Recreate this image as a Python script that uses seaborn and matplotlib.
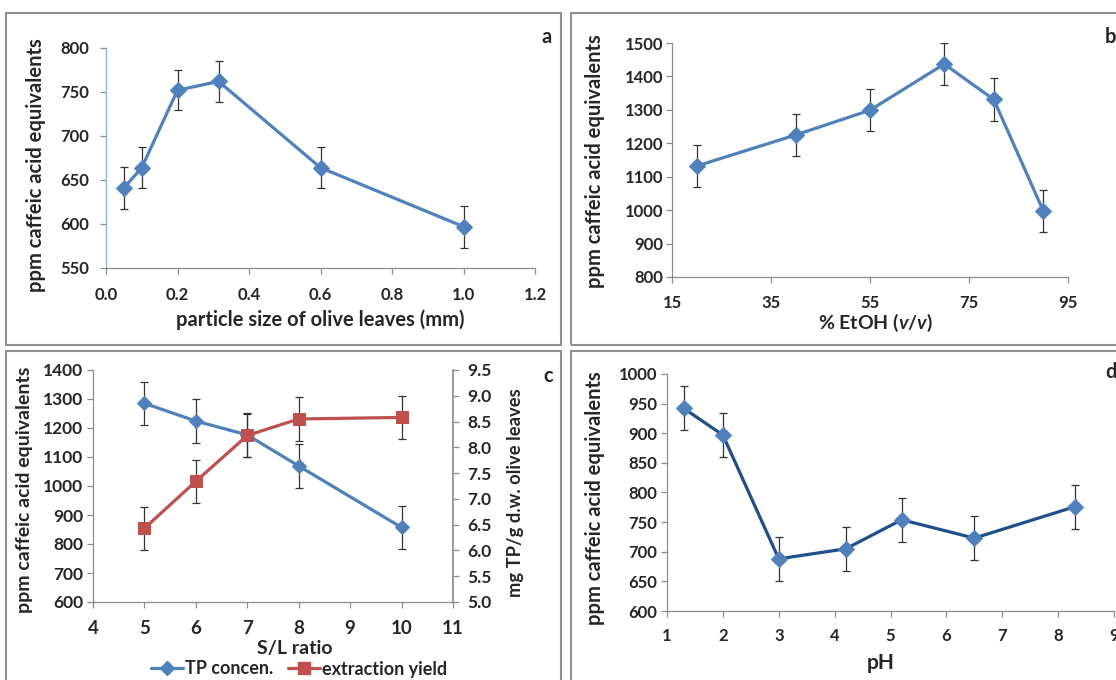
import matplotlib.pyplot as plt
import seaborn as sns
from matplotlib import font_manager
from matplotlib.patches import Rectangle
from matplotlib.ticker import MultipleLocator, FormatStrFormatter
from matplotlib.lines import Line2D

# a: particle size of olive leaves
size_mm = [0.05, 0.1, 0.2, 0.315, 0.6, 1.0]
tp_size = [641, 664, 752, 762, 664, 597]
err_size = [24, 23, 23, 23, 23, 24]

# b: ethanol content
etoh = [20, 40, 55, 70, 80, 90]
tp_etoh = [1132, 1225, 1299, 1437, 1331, 998]
err_etoh = [63, 63, 63, 63, 63, 63]

# c: solid / liquid ratio
sl_ratio = [5, 6, 7, 8, 10]
tp_sl = [1285, 1224, 1176, 1069, 857]
err_tp_sl = [75, 75, 75, 75, 75]
yield_sl = [6.43, 7.34, 8.23, 8.55, 8.58]
err_yield_sl = [0.42, 0.42, 0.42, 0.42, 0.42]

# d: pH
ph = [1.3, 2, 3, 4.2, 5.2, 6.5, 8.3]
tp_ph = [942, 897, 688, 705, 754, 723, 776]
err_ph = [37, 37, 37, 37, 37, 37, 37]

sns.set_theme(style="white")

# pick a family that really has a bold face installed
bold_families = {f.name for f in font_manager.fontManager.ttflist
                 if isinstance(f.weight, int) and f.weight >= 600 or f.weight == "bold"}
FONT = next((f for f in ["Lato", "Open Sans", "Noto Sans", "Roboto", "Liberation Sans"]
             if f in bold_families), "DejaVu Sans")
plt.rcParams['font.family'] = [FONT, 'DejaVu Sans']
plt.rcParams['font.weight'] = 'bold'
plt.rcParams['mathtext.fontset'] = 'custom'
plt.rcParams['mathtext.it'] = FONT + ':italic:bold'
plt.rcParams['mathtext.rm'] = FONT + ':bold'

BLUE = "#4F81BD"
DARK = "#1F4E8C"
RED = "#C0504D"
GRAY = "#8C8C8C"
W, H = 1116, 680
fig = plt.figure(figsize=(W / 100, H / 100), dpi=100)


def px_axes(l, t, r, b):
    return fig.add_axes([l / W, 1 - b / H, (r - l) / W, (b - t) / H])


def box(l, t, r, b):
    fig.patches.append(Rectangle((l / W, 1 - b / H), (r - l) / W, (b - t) / H,
                                 transform=fig.transFigure, fill=False,
                                 ec="#909090", lw=1.5))


def style(ax, fs=12, xpad=9, ypad=3):
    for s in ["top", "right"]:
        ax.spines[s].set_visible(False)
    for s in ["left", "bottom"]:
        ax.spines[s].set_color(GRAY)
        ax.spines[s].set_linewidth(0.9)
    ax.tick_params(direction="out", length=4, width=0.9, color=GRAY,
                   labelsize=fs, left=True, bottom=True)
    ax.tick_params(axis="x", pad=xpad)
    ax.tick_params(axis="y", pad=ypad)


def labels(ax, xl, yl, xpos, ypos, fs=14.5, xfs=None):
    ax.set_xlabel(xl, fontsize=xfs or fs, fontweight="bold", ha="center", va="center")
    ax.set_ylabel(yl, fontsize=fs, fontweight="bold", ha="center", va="center")
    ax.xaxis.set_label_coords(*xpos)
    ax.yaxis.set_label_coords(*ypos)


def draw(ax, x, y, err, line_color, marker="D", ms=8, mc=BLUE):
    sns.lineplot(x=x, y=y, ax=ax, color=line_color, linewidth=2.3, marker=marker,
                 markersize=ms, markerfacecolor=mc, markeredgecolor=mc,
                 legend=False, zorder=3)
    ax.errorbar(x, y, yerr=err, fmt="none", ecolor="#333333", elinewidth=0.9,
                capsize=3, capthick=0.9, zorder=2)


box(6, 13, 561, 345)
box(571, 13, 1130, 345)
box(6, 351, 561, 700)
box(571, 351, 1130, 700)

YLAB = "ppm caffeic acid equivalents"

# panel a
ax = px_axes(106, 48, 535, 268)
draw(ax, size_mm, tp_size, err_size, BLUE)
ax.set_xlim(0, 1.2)
ax.set_ylim(550, 800)
ax.xaxis.set_major_locator(MultipleLocator(0.2))
ax.xaxis.set_major_formatter(FormatStrFormatter("%.1f"))
ax.yaxis.set_major_locator(MultipleLocator(50))
style(ax, xpad=10, ypad=8)
ax.spines["left"].set_color("#8EB4E3")
labels(ax, "particle size of olive leaves (mm)", YLAB, (0.5, -0.236), (-0.163, 0.468))
fig.text(547 / W, 1 - 37 / H, "a", fontsize=14.5, fontweight="bold", ha="center", va="center")

# panel b
ax = px_axes(672, 43, 1068, 277)
draw(ax, etoh, tp_etoh, err_etoh, BLUE)
ax.set_xlim(15, 95)
ax.set_ylim(800, 1500)
ax.set_xticks([15, 35, 55, 75, 95])
ax.yaxis.set_major_locator(MultipleLocator(100))
style(ax, xpad=9, ypad=2)
labels(ax, r"% EtOH ($\mathit{v/v}$)", YLAB, (0.515, -0.197), (-0.194, 0.496), xfs=14)
fig.text(1111 / W, 1 - 37 / H, "b", fontsize=14.5, fontweight="bold", ha="center", va="center")

# panel c
ax = px_axes(93, 370, 453, 602)
draw(ax, sl_ratio, tp_sl, err_tp_sl, BLUE, ms=7.5)
ax.set_xlim(4, 11)
ax.set_ylim(600, 1400)
ax.xaxis.set_major_locator(MultipleLocator(1))
ax.yaxis.set_major_locator(MultipleLocator(100))
style(ax, fs=12.5, xpad=9, ypad=3)
ax.tick_params(axis="x", labelsize=13.5)
ax2 = ax.twinx()
draw(ax2, sl_ratio, yield_sl, err_yield_sl, RED, marker="s", ms=8.5, mc=RED)
ax2.set_ylim(5.0, 9.5)
ax2.yaxis.set_major_locator(MultipleLocator(0.5))
ax2.yaxis.set_major_formatter(FormatStrFormatter("%.1f"))
for s in ["top", "left", "bottom"]:
    ax2.spines[s].set_visible(False)
ax2.spines["right"].set_color(GRAY)
ax2.tick_params(direction="out", length=4, width=0.9, color=GRAY, labelsize=12.5,
                right=True, pad=6)
ax2.set_xlim(4, 11)
labels(ax, "S/L ratio", YLAB, (0.561, -0.2), (-0.189, 0.483), fs=14)
ax2.set_ylabel("mg TP/g d.w. olive leaves", fontsize=13.2, fontweight="bold",
               ha="center", va="center")
ax2.yaxis.set_label_coords(1.175, 0.47)
handles = [Line2D([], [], color=BLUE, lw=2.3, marker="D", ms=7, mfc=BLUE, mec=BLUE),
           Line2D([], [], color=RED, lw=2.3, marker="s", ms=8, mfc=RED, mec=RED)]
fig.legend(handles, ["TP concen.", "extraction yield"], loc="center",
           bbox_to_anchor=(299 / W, 1 - 669 / H), ncol=2, frameon=False,
           handlelength=1.8, handletextpad=0.1, columnspacing=0.8,
           borderpad=0.1, prop={"weight": "bold", "size": 13})
fig.text(548 / W, 1 - 376 / H, "c", fontsize=14.5, fontweight="bold", ha="center", va="center")

# panel d
ax = px_axes(667, 374, 1114, 611)
draw(ax, ph, tp_ph, err_ph, DARK)
ax.set_xlim(1, 9)
ax.set_ylim(600, 1000)
ax.xaxis.set_major_locator(MultipleLocator(1))
ax.yaxis.set_major_locator(MultipleLocator(50))
style(ax, xpad=8.5, ypad=3)
labels(ax, "pH", YLAB, (0.479, -0.219), (-0.161, 0.477), xfs=15)
fig.text(1111 / W, 1 - 372 / H, "d", fontsize=14.5, fontweight="bold", ha="center", va="center")

fig.savefig("out.png", dpi=100)
